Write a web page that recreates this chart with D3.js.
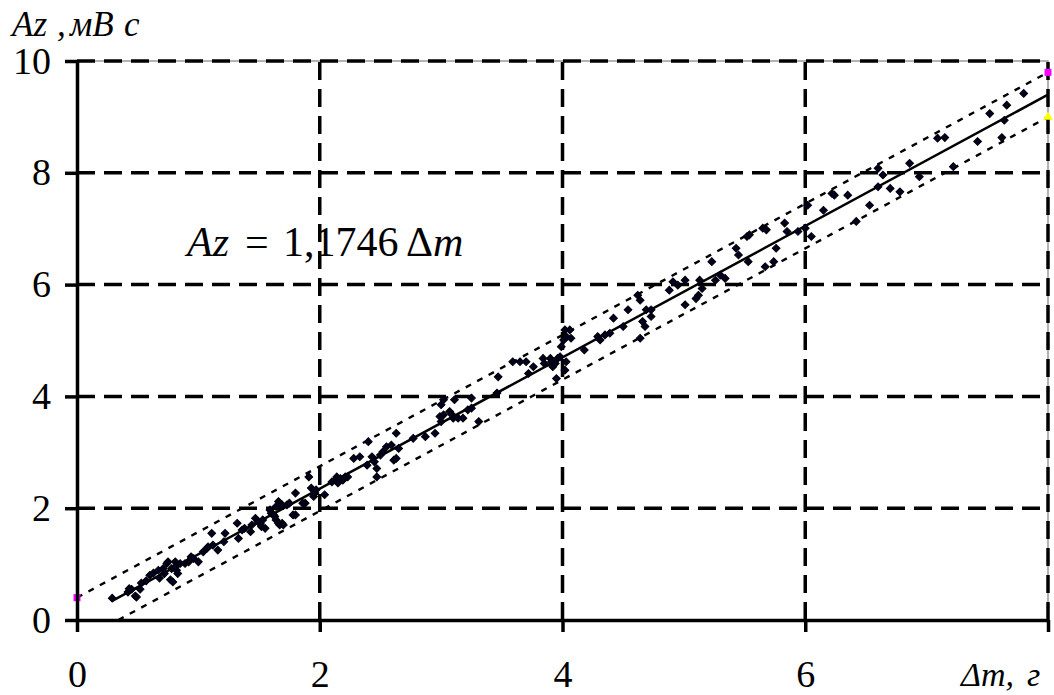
<!DOCTYPE html>
<html>
<head>
<meta charset="utf-8">
<script src="https://cdn.jsdelivr.net/npm/d3@7"></script>
<style>
  body { margin: 0; background: #fff; }
  svg { display: block; font-family: "Liberation Serif", "Times New Roman", serif; }
</style>
</head>
<body>
<script>
// valeurs
const xTicks = [0, 2, 4, 6, 8];
const xLabels = ["0", "2", "4", "6", ""];
const yTicks = [0, 2, 4, 6, 8, 10];
const pente = 1.1746;
const demiBande = 0.4;
const debutRegression = 0.29;

// points mesures [dm, Az]
const points = [
  [0.29,0.39],[0.42,0.50],[0.48,0.43],[0.49,0.41],[0.45,0.55],[0.52,0.55],[0.43,0.56],
  [0.53,0.66],[0.57,0.70],[0.60,0.80],[0.63,0.84],
  [0.67,0.89],[0.68,0.75],[0.71,0.92],[0.72,0.83],[0.74,1.01],[0.75,1.04],[0.77,0.72],
  [0.78,0.92],[0.81,1.04],[0.81,0.95],[0.82,0.89],[0.83,0.83],[0.79,0.68],
  [0.85,1.01],[0.89,1.01],[0.92,1.04],[0.93,1.07],[0.94,1.13],[0.96,1.10],[1.00,1.04],
  [1.04,1.22],[1.07,1.28],[1.08,1.31],[1.11,1.55],[1.12,1.34],[1.16,1.25],[1.21,1.40],
  [1.22,1.55],[1.32,1.73],[1.33,1.46],[1.36,1.61],[1.38,1.64],[1.43,1.58],[1.44,1.70],
  [1.47,1.82],[1.51,1.73],[1.52,1.67],[1.53,1.79],[1.55,1.64],[1.59,1.97],[1.60,1.91],
  [1.63,1.85],[1.64,1.79],[1.66,1.73],[1.67,1.70],[1.66,2.12],[1.67,2.09],[1.69,2.06],
  [1.73,2.06],[1.75,2.09],[1.80,1.88],[1.80,2.27],[1.88,2.09],
  [1.49,1.76],[1.62,1.88],[1.64,2.03],[1.69,1.73],[1.70,1.70],[1.78,1.88],[1.86,2.09],
  [1.91,2.56],[1.93,2.36],[1.95,2.21],[1.96,2.27],[1.97,2.33],[2.04,2.24],[2.10,2.47],
  [2.13,2.50],[2.14,2.56],[2.15,2.45],[2.17,2.53],[2.19,2.50],[2.21,2.56],[2.23,2.56],
  [2.28,2.89],[2.33,2.92],[2.39,2.77],[2.40,3.19],[2.43,2.92],[2.45,2.83],[2.47,2.71],
  [2.47,2.56],[2.50,2.95],[2.52,3.01],[2.55,3.10],[2.59,3.13],[2.61,2.86],[2.63,2.89],
  [2.63,3.34],[2.65,3.07],[2.77,3.25],[2.87,3.28],[2.95,3.34],[2.99,3.64],[3.00,3.55],
  [3.02,3.67],[3.00,3.85],[3.02,3.94],[3.07,3.73],[3.09,3.67],[3.10,3.61],[3.11,3.94],
  [3.14,3.61],[3.18,3.61],[3.22,3.76],[3.25,3.79],[3.25,3.97],[3.31,3.55],[3.46,4.06],
  [3.47,4.35],[3.59,4.62],[3.65,4.62],[3.70,4.62],[3.72,4.41],[3.76,4.53],[3.84,4.68],
  [3.85,4.59],[3.90,4.68],[3.91,4.62],[3.92,4.53],[3.94,4.59],[3.95,4.32],[3.96,4.68],
  [3.98,4.71],[3.99,4.89],[4.01,5.01],[4.02,5.19],[4.03,5.07],[4.06,5.19],[4.07,5.04],
  [4.02,4.47],[4.03,4.62],[4.18,4.83],[4.29,5.07],[4.31,5.01],[4.35,5.10],[4.39,5.13],
  [4.42,5.40],[4.50,5.25],[4.54,5.55],[4.62,5.81],[4.64,5.72],[4.64,5.04],[4.66,5.34],
  [4.68,5.25],[4.69,5.55],[4.73,5.55],[4.73,5.43],[4.88,5.90],[4.91,6.05],[4.95,5.99],
  [5.01,6.08],[5.01,5.64],[5.10,5.75],[5.12,5.81],
  [5.13,6.08],[5.15,5.93],[5.23,6.41],[5.26,6.08],[5.30,6.17],[5.34,6.11],[5.43,6.65],
  [5.45,6.53],[5.52,6.86],[5.54,6.89],[5.53,6.41],[5.67,6.32],[5.74,6.41],[5.76,6.65],
  [5.65,7.01],[5.68,6.98],[5.83,7.10],[5.85,6.95],[5.94,6.95],[6.00,7.01],[6.02,7.42],
  [6.05,6.86],[6.15,7.33],[6.22,7.63],[6.24,7.60],[6.35,7.60],[6.42,7.13],[6.53,7.42],
  [6.60,8.08],[6.64,7.96],[6.60,7.75],[6.70,7.72],[6.78,7.66],
  [6.86,8.17],[6.94,7.93],[7.09,8.62],[7.15,8.63],[7.22,8.11],[7.42,8.56],[7.52,9.06],
  [7.62,8.63],[7.64,8.94],[7.66,9.21],[7.80,9.42]
];

const W = 1054, H = 695;
const svg = d3.select("body").append("svg").attr("width", W).attr("height", H);

const x = d3.scaleLinear().domain([0, 8]).range([77, 1048]);
const y = d3.scaleLinear().domain([0, 10]).range([620, 61]);

// bordure grise de la zone de tracé
svg.append("rect")
  .attr("x", x(0)).attr("y", y(10))
  .attr("width", x(8) - x(0)).attr("height", y(0) - y(10))
  .attr("fill", "none").attr("stroke", "#9a9a9a").attr("stroke-width", 1.5);

// grille en tirets
svg.append("g").selectAll("line").data(yTicks.filter(d => d > 0)).enter()
  .append("line")
  .attr("x1", x(0)).attr("x2", x(8))
  .attr("y1", d => y(d)).attr("y2", d => y(d))
  .attr("stroke", "#000").attr("stroke-width", 3.5).attr("stroke-dasharray", "18,9");
svg.append("g").selectAll("line").data(xTicks.filter(d => d > 0)).enter()
  .append("line")
  .attr("y1", y(0)).attr("y2", y(10))
  .attr("x1", d => x(d)).attr("x2", d => x(d))
  .attr("stroke", "#000").attr("stroke-width", 3.5).attr("stroke-dasharray", "18,9");

// bandes de confiance (pointillés)
const ligne = d3.line().x(d => x(d[0])).y(d => y(d[1]));
const haut = [[0, demiBande], [8, pente * 8 + demiBande]];
const bas = [[demiBande / pente, 0], [8, pente * 8 - demiBande]];
[haut, bas].forEach(b => {
  svg.append("path").datum(b).attr("d", ligne)
    .attr("fill", "none").attr("stroke", "#000").attr("stroke-width", 2.4)
    .attr("stroke-dasharray", "6,7");
});

// droite de régression
svg.append("path").datum([[debutRegression, pente * debutRegression], [8, pente * 8]])
  .attr("d", ligne).attr("fill", "none").attr("stroke", "#000").attr("stroke-width", 2.5);

// points
const losange = d3.symbol().type(d3.symbolSquare).size(30);
svg.append("g").selectAll("path").data(points).enter()
  .append("path")
  .attr("d", losange)
  .attr("transform", d => "translate(" + x(d[0]) + "," + y(d[1]) + ") rotate(45)")
  .attr("fill", "#000022").attr("stroke", "#000").attr("stroke-width", 1);

// marqueurs des extrémités des bandes
svg.append("g").selectAll("rect").data([haut[0], haut[1]]).enter()
  .append("rect")
  .attr("x", d => x(d[0]) - 3.5).attr("y", d => y(d[1]) - 3.5)
  .attr("width", 7).attr("height", 7).attr("fill", "#ff00ff");
svg.append("path")
  .attr("d", d3.symbol().type(d3.symbolTriangle).size(40))
  .attr("transform", "translate(" + x(bas[1][0]) + "," + y(bas[1][1]) + ")")
  .attr("fill", "#ffff00");

// axes
const axeY = svg.append("g")
  .attr("transform", "translate(" + x(0) + ",0)")
  .call(d3.axisLeft(y).tickValues(yTicks).tickSize(12).tickSizeOuter(0).tickPadding(14).tickFormat(d3.format("d")));
const axeX = svg.append("g")
  .attr("transform", "translate(0," + y(0) + ")")
  .call(d3.axisBottom(x).tickValues(xTicks).tickSize(12).tickSizeOuter(0).tickPadding(28)
    .tickFormat((d, i) => xLabels[i]));

[axeY, axeX].forEach(a => {
  a.select(".domain").attr("stroke", "#000").attr("stroke-width", 3.5);
  a.selectAll(".tick line").attr("stroke", "#000").attr("stroke-width", 3.5);
  a.selectAll(".tick text")
    .attr("fill", "#000")
    .style("font-family", "'Liberation Serif', serif")
    .style("font-size", "38px");
});

// titres
const titreY = svg.append("text").attr("y", 36)
  .style("font-size", "35px").style("font-style", "italic");
titreY.append("tspan").attr("x", 12).text("Az");
titreY.append("tspan").attr("x", 57).text(",");
titreY.append("tspan").attr("x", 70).text("мВ");
titreY.append("tspan").attr("x", 124).text("с");

const titreX = svg.append("text").attr("y", 686)
  .style("font-size", "34px").style("font-style", "italic");
titreX.append("tspan").attr("x", 961).text("Δm,");
titreX.append("tspan").attr("x", 1027).text("г");

// équation
const eq = svg.append("text").attr("y", 256).style("font-size", "42px");
eq.append("tspan").attr("x", 187).style("font-style", "italic").text("Az");
eq.append("tspan").attr("x", 245).text("=");
eq.append("tspan").attr("x", 283).text("1,1746");
eq.append("tspan").attr("x", 406).text("Δ");
eq.append("tspan").style("font-style", "italic").text("m");
</script>
</body>
</html>
